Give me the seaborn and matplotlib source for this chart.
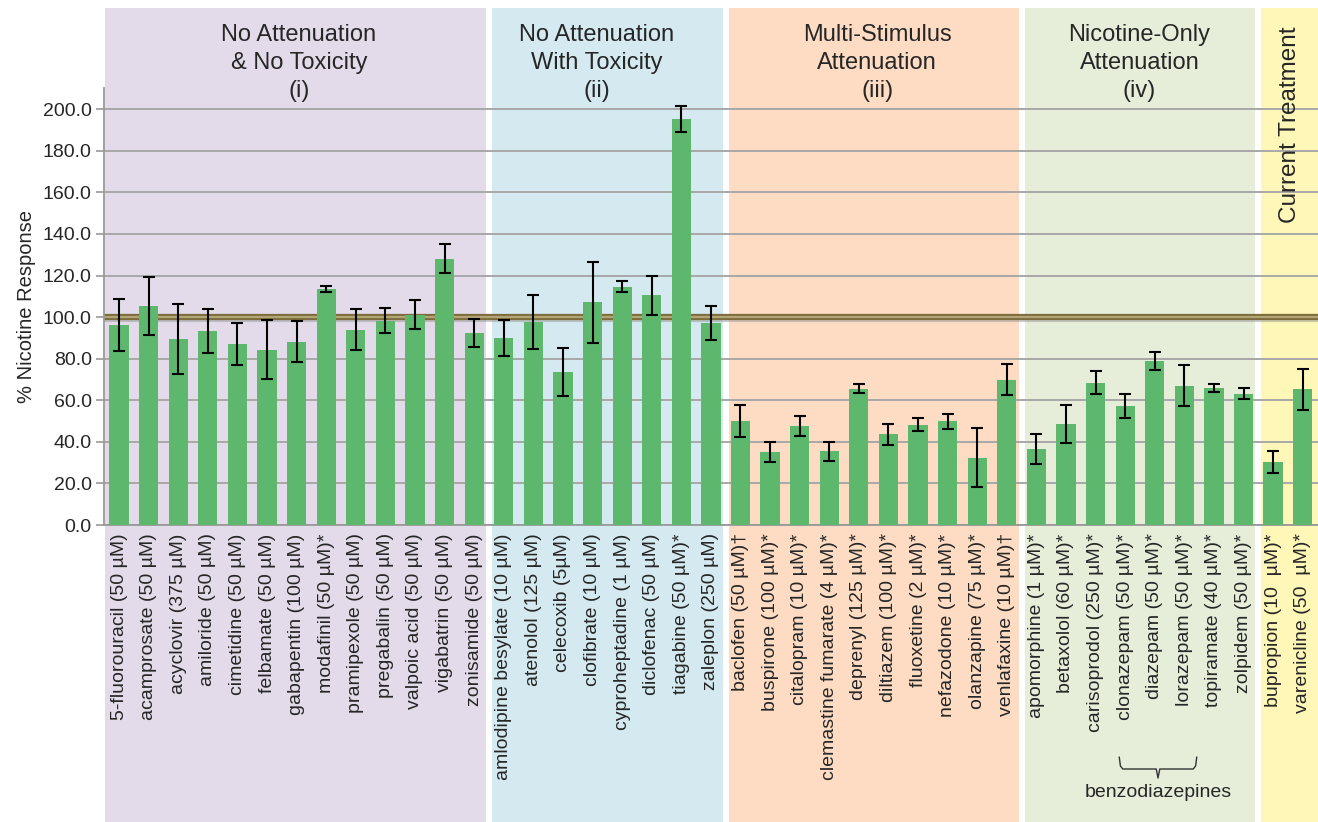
import numpy as np
import pandas as pd
import matplotlib
matplotlib.use("Agg")
import matplotlib.pyplot as plt
import matplotlib.transforms as mtransforms
from matplotlib.patches import Rectangle
import seaborn as sns

# ---------------- data ----------------
drugs_i = ["5-fluorouracil (50 µM)", "acamprosate (50 µM)", "acyclovir (375 µM)",
           "amiloride (50 µM)", "cimetidine (50 µM)", "felbamate (50 µM)",
           "gabapentin (100 µM)", "modafinil (50 µM)*", "pramipexole (50 µM)",
           "pregabalin (50 µM)", "valpoic acid (50 µM)", "vigabatrin (50 µM)",
           "zonisamide (50 µM)"]
values_i = [96.2, 105.5, 89.5, 93.3, 87.2, 84.4, 88.2, 113.7, 94.0, 98.3, 101.2, 128.1, 92.5]
errors_i = [12.7, 14.0, 17.0, 10.8, 10.0, 14.0, 10.0, 1.5, 9.8, 6.0, 6.8, 7.0, 6.7]

drugs_ii = ["amlodipine besylate (10 µM)", "atenolol (125 µM)", "celecoxib (5µM)",
            "clofibrate (10 µM)", "cyproheptadine (1 µM)", "diclofenac (50 µM)",
            "tiagabine (50 µM)*", "zaleplon (250 µM)"]
values_ii = [90.1, 97.7, 73.6, 107.1, 114.7, 110.5, 195.2, 97.0]
errors_ii = [8.7, 13.0, 11.5, 19.4, 2.5, 9.5, 6.3, 8.2]

drugs_iii = ["baclofen (50 µM)†", "buspirone (100 µM)*", "citalopram (10 µM)*",
             "clemastine fumarate (4 µM)*", "deprenyl (125 µM)*", "diltiazem (100 µM)*",
             "fluoxetine (2 µM)*", "nefazodone (10 µM)*", "olanzapine (75 µM)*",
             "venlafaxine (10 µM)†"]
values_iii = [50.0, 35.1, 47.6, 35.4, 65.6, 43.6, 48.3, 49.9, 32.4, 69.8]
errors_iii = [7.7, 4.7, 5.0, 4.4, 2.2, 5.2, 3.0, 3.5, 14.3, 7.5]

drugs_iv = ["apomorphine (1 µM)*", "betaxolol (60 µM)*", "carisoprodol (250 µM)*",
            "clonazepam (50 µM)*", "diazepam (50 µM)*", "lorazepam (50 µM)*",
            "topiramate (40 µM)*", "zolpidem (50 µM)*"]
values_iv = [36.6, 48.6, 68.5, 57.4, 78.9, 67.0, 65.9, 63.2]
errors_iv = [7.2, 9.0, 5.5, 5.7, 4.3, 9.8, 2.0, 2.8]

drugs_cur = ["bupropion (10  µM)*", "varenicline (50  µM)*"]
values_cur = [30.3, 65.3]
errors_cur = [5.3, 9.8]

group_titles = ["No Attenuation\n& No Toxicity\n(i)",
                "No Attenuation\nWith Toxicity\n(ii)",
                "Multi-Stimulus\nAttenuation\n(iii)",
                "Nicotine-Only\nAttenuation\n(iv)",
                "Current Treatment"]
group_sizes = [len(drugs_i), len(drugs_ii), len(drugs_iii), len(drugs_iv), len(drugs_cur)]
group_colors = ["#E3DBEA", "#D4E9F0", "#FDDCC3", "#E6EEDA", "#FEF7B8"]

y_ticks = [0, 20, 40, 60, 80, 100, 120, 140, 160, 180, 200]
reference_level = 100
benzo_label = "benzodiazepines"

labels = drugs_i + drugs_ii + drugs_iii + drugs_iv + drugs_cur
values = values_i + values_ii + values_iii + values_iv + values_cur
errors = errors_i + errors_ii + errors_iii + errors_iv + errors_cur
df = pd.DataFrame({"drug": labels, "response": values, "err": errors})

# ---------------- style ----------------
sns.set_style("white")
plt.rcParams["font.family"] = ["Liberation Sans", "DejaVu Sans"]

W, H = 1318, 822
fig = plt.figure(figsize=(W / 100, H / 100), dpi=100)
ax = fig.add_axes([104.3 / W, (H - 525) / H, (1317.5 - 104.3) / W, (525 - 88) / H])
ax.set_facecolor("none")

# background panels (x in data, y in figure coords)
blend = mtransforms.blended_transform_factory(ax.transData, fig.transFigure)
n = len(labels)
bounds = np.concatenate([[0], np.cumsum(group_sizes)]) - 0.5
gap = 0.1
for gi, color in enumerate(group_colors):
    x0 = bounds[gi] + (0.03 if gi == 0 else gap)
    x1 = bounds[gi + 1] - (gap if gi < len(group_colors) - 1 else -0.2)
    rect = Rectangle((x0, 0.0), x1 - x0, 0.990, transform=blend,
                     facecolor=color, edgecolor="none", zorder=-5)
    fig.patches.append(rect)

# bars
sns.barplot(data=df, x="drug", y="response", color="#5DB76C", saturation=1,
            width=0.65, errorbar=None, ax=ax, zorder=3, linewidth=0)
ax.errorbar(np.arange(n), df["response"], yerr=df["err"], fmt="none",
            ecolor="black", elinewidth=1.5, capsize=4, capthick=1.5, zorder=4)

# reference line at 100
ax.axhline(reference_level - 1.2, color="#9A9A9A", lw=3, alpha=0.5, zorder=1.5)
ax.axhline(reference_level, color="#7C6C3C", lw=4.5, zorder=1.6)
ax.axhline(reference_level, color="#B4A579", lw=1.6, zorder=1.7)

# axes formatting
ax.set_xlim(-0.5, n - 0.5)
ax.set_ylim(0, 210.2)
ax.set_yticks(y_ticks)
ax.set_yticklabels([f"{v:.1f}" for v in y_ticks], fontsize=14)
ax.yaxis.grid(True, color="#A8A8A8", lw=1.4, zorder=1)
ax.set_axisbelow(True)
ax.set_xlabel("")
ax.set_ylabel("% Nicotine Response", fontsize=14.5, labelpad=5)
ax.set_xticks(np.arange(n))
ax.set_xticklabels(labels, rotation=90, fontsize=14, va="top", ha="center")
ax.tick_params(axis="x", which="major", length=0, pad=6)
ax.set_xticks(np.arange(-0.5, n, 1), minor=True)
ax.tick_params(axis="x", which="minor", length=5, color="#999999", width=1.2)
ax.tick_params(axis="y", which="major", length=6, color="#999999", width=1.2, left=True, pad=3)
for s in ["top", "right"]:
    ax.spines[s].set_visible(False)
for s in ["left", "bottom"]:
    ax.spines[s].set_color("#999999")
    ax.spines[s].set_linewidth(1.3)

# group titles
title_x = [6.08, 16.15, 25.62, 34.48]
for t, xpos in zip(group_titles[:4], title_x):
    ax.text(xpos, (H - 63) / H, t, transform=blend, ha="center", va="center",
            fontsize=17, linespacing=1.38)
ax.text(39.58, (H - 125) / H, group_titles[4], transform=blend, ha="center",
        va="center", rotation=90, fontsize=17.5)

# benzodiazepines bracket
yb = lambda p: (H - p) / H
bx = [33.80, 33.84, 33.92, 35.05, 35.11, 35.17, 36.30, 36.38, 36.42]
by = [yb(757), yb(766), yb(769), yb(769), yb(778), yb(769), yb(769), yb(766), yb(757)]
ax.plot(bx, by, transform=blend, color="#333333", lw=1.0, clip_on=False)
ax.text(35.11, yb(792), benzo_label, transform=blend, ha="center", va="center",
        fontsize=14)

fig.savefig("out.png", dpi=100)
